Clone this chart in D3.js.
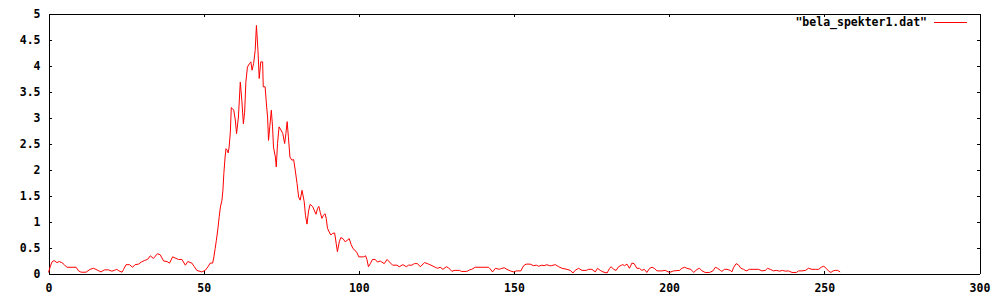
<!DOCTYPE html>
<html>
<head>
<meta charset="utf-8">
<script src="https://cdn.jsdelivr.net/npm/d3@7"></script>
<style>
  body { margin: 0; background: #fff; }
  svg { display: block; }
  .axis text { font-family: "DejaVu Sans Mono", "Liberation Mono", monospace; font-weight: bold; font-size: 11.5px; fill: #000; }
  .axis path, .axis line { stroke: #000; shape-rendering: crispEdges; }
  .spectrum { fill: none; stroke: #ff0000; stroke-width: 1; }
  .key text { font-family: "DejaVu Sans Mono", "Liberation Mono", monospace; font-weight: bold; font-size: 11.5px; fill: #000; }
</style>
</head>
<body>
<script>
// values
const seriesName = '"bela_spekter1.dat"';

const specX = [
  0, 0.55, 1.1, 1.8, 2.7, 3.5, 4.3, 5.1, 5.9, 8.9, 9.7, 10.5, 12.1, 13.4, 14.5, 15.6, 16.9, 18.0, 19.3, 20.4,
  21.2, 22.0, 22.7, 23.7, 24.2, 25.0, 26.1, 27.1, 27.9, 29.0, 29.9, 30.9, 31.9, 32.8, 33.8, 35.1, 36.0, 37.1, 38.2, 39.0,
  40.0, 41.1, 41.9, 43.0, 44.1, 44.9, 46.2, 47.0, 47.8, 49.4, 50.5, 51.4, 52.1, 52.9, 53.3, 53.7, 54.1, 54.6, 55.0, 55.4,
  55.9, 56.2, 56.5, 56.9, 57.2, 57.6, 57.9, 58.2, 58.6, 58.9, 59.3, 59.7, 60.2, 60.6, 61.2, 61.8, 62.3, 62.8, 63.2, 63.6,
  64.1, 64.8, 65.2, 65.6, 66.1, 66.6, 67.0, 67.5, 67.9, 68.4, 69.0, 69.2, 69.8, 70.3, 70.6, 70.9, 71.3, 71.8, 72.2, 72.5,
  73.1, 73.4, 73.8, 74.3, 74.9, 75.5, 76.1, 76.5, 76.9, 77.3, 77.8, 78.4, 79.0, 79.5, 80.1, 80.6, 81.1, 81.7, 82.4, 82.8,
  83.3, 83.8, 84.3, 85.1, 85.6, 86.2, 86.7, 87.1, 87.6, 88.1, 88.6, 89.1, 89.5, 89.9, 90.6, 91.0, 91.5, 92.2, 92.7, 93.1,
  93.7, 94.2, 94.9, 95.6, 96.3, 96.9, 97.5, 98.1, 98.7, 99.4, 100.0, 101.5, 102.2, 102.6, 103.1, 103.7, 104.4, 105.3, 106.0, 106.9,
  107.4, 108.2, 109.1, 109.9, 110.9, 112.3, 113.0, 114.2, 115.3, 116.0, 117.1, 117.9, 118.9, 119.8, 121.2, 122.5, 123.6, 124.6, 125.4, 126.2,
  127.1, 128.2, 128.9, 130.0, 130.7, 132.5, 133.0, 134.8, 135.7, 136.4, 137.5, 141.8, 142.3, 143.1, 144.0, 145.3, 146.1, 146.9, 147.7, 148.8,
  149.9, 150.7, 152.2, 153.1, 153.9, 155.2, 156.3, 157.2, 157.9, 159.0, 159.7, 160.6, 161.4, 162.0, 163.3, 164.4, 165.5, 167.1, 168.1, 169.0,
  169.7, 170.8, 171.9, 173.3, 174.0, 175.1, 176.2, 176.9, 177.8, 178.7, 180.0, 180.8, 181.3, 182.1, 182.9, 183.7, 184.6, 185.1, 185.6, 186.4,
  187.2, 188.0, 188.7, 189.6, 190.4, 191.2, 192.0, 192.8, 193.7, 194.5, 195.2, 196.1, 197.7, 198.7, 200.1, 201.4, 203.4, 204.1, 205.0, 205.7,
  207.0, 207.9, 209.0, 209.8, 210.6, 211.6, 213.0, 214.1, 214.9, 215.6, 216.5, 217.0, 217.8, 218.6, 219.7, 220.2, 220.8, 221.6, 222.4, 223.1,
  224.0, 224.8, 225.9, 228.8, 229.9, 231.0, 231.7, 232.6, 233.6, 234.5, 235.6, 236.5, 237.4, 238.5, 239.6, 241.0, 241.7, 242.8, 243.9, 244.9,
  246.0, 247.1, 248.2, 249.0, 249.8, 250.6, 251.4, 252.1, 252.8, 253.5, 254.3, 255.1
];

const specY = [
  0.02, 0.13, 0.22, 0.25, 0.21, 0.23, 0.21, 0.17, 0.12, 0.12, 0.05, 0.025, 0.025, 0.08, 0.10, 0.07, 0.03, 0.07, 0.07, 0.045,
  0.06, 0.08, 0.05, 0.025, 0.08, 0.17, 0.17, 0.12, 0.17, 0.18, 0.22, 0.25, 0.27, 0.34, 0.29, 0.38, 0.36, 0.24, 0.23, 0.20,
  0.32, 0.29, 0.27, 0.27, 0.16, 0.23, 0.20, 0.13, 0.06, 0.03, 0.06, 0.13, 0.20, 0.20, 0.32, 0.48, 0.64, 0.87, 1.09, 1.28,
  1.41, 1.60, 1.92, 2.24, 2.40, 2.37, 2.32, 2.43, 2.72, 3.19, 3.17, 3.14, 2.95, 2.69, 3.01, 3.68, 3.33, 2.88, 3.10, 3.68,
  3.97, 4.04, 4.07, 3.91, 4.04, 4.29, 4.77, 4.29, 3.75, 4.07, 4.07, 3.59, 3.59, 3.20, 3.01, 2.56, 2.82, 3.14, 2.82, 2.43,
  2.24, 2.05, 2.50, 2.82, 2.76, 2.69, 2.50, 2.69, 2.92, 2.63, 2.24, 2.18, 2.19, 1.99, 1.73, 1.47, 1.41, 1.60, 1.38, 1.12,
  0.95, 1.20, 1.33, 1.29, 1.22, 1.14, 1.25, 1.29, 1.17, 1.06, 1.12, 1.15, 1.06, 0.87, 0.78, 0.74, 0.77, 0.78, 0.58, 0.42,
  0.61, 0.69, 0.67, 0.61, 0.64, 0.67, 0.56, 0.48, 0.45, 0.40, 0.32, 0.32, 0.34, 0.27, 0.13, 0.19, 0.27, 0.27, 0.22, 0.24,
  0.22, 0.19, 0.27, 0.22, 0.16, 0.16, 0.13, 0.17, 0.13, 0.16, 0.16, 0.19, 0.19, 0.13, 0.21, 0.18, 0.15, 0.12, 0.10, 0.12,
  0.08, 0.13, 0.11, 0.04, 0.06, 0.06, 0.04, 0.04, 0.07, 0.08, 0.12, 0.12, 0.09, 0.03, 0.10, 0.08, 0.10, 0.11, 0.08, 0.05,
  0.03, 0.05, 0.05, 0.15, 0.18, 0.18, 0.15, 0.16, 0.14, 0.16, 0.15, 0.17, 0.15, 0.15, 0.17, 0.13, 0.10, 0.08, 0.06, 0.01,
  0.06, 0.10, 0.06, 0.06, 0.08, 0.08, 0.03, 0.10, 0.06, 0.03, 0.01, 0.10, 0.13, 0.08, 0.06, 0.13, 0.16, 0.17, 0.15, 0.18,
  0.10, 0.20, 0.19, 0.10, 0.10, 0.06, 0.08, 0.02, 0.10, 0.12, 0.10, 0.05, 0.05, 0.06, 0.02, 0.05, 0.06, 0.10, 0.12, 0.10,
  0.08, 0.02, 0.08, 0.10, 0.05, 0.02, 0.02, 0.05, 0.12, 0.10, 0.06, 0.04, 0.08, 0.08, 0.06, 0.03, 0.12, 0.19, 0.16, 0.10,
  0.08, 0.05, 0.08, 0.08, 0.05, 0.06, 0.10, 0.08, 0.05, 0.06, 0.045, 0.06, 0.045, 0.05, 0.02, 0.02, 0.05, 0.05, 0.06, 0.10,
  0.08, 0.08, 0.08, 0.12, 0.14, 0.10, 0.045, 0.02, 0.05, 0.06, 0.06, 0.03
];

const xTicks = [0, 50, 100, 150, 200, 250, 300];
const yTicks = [0, 0.5, 1, 1.5, 2, 2.5, 3, 3.5, 4, 4.5, 5];

var width = 1000, height = 300;
var plot = {left: 48.5, right: 979.5, top: 13.5, bottom: 273.5};

var svg = d3.select("body").append("svg")
    .attr("width", width)
    .attr("height", height);

var x = d3.scaleLinear().domain([0, 300]).range([plot.left, plot.right]);
var y = d3.scaleLinear().domain([0, 5]).range([plot.bottom, plot.top]);

var yFmt = function (d) { return String(d); };

// bottom axis with labels, ticks pointing in
svg.append("g")
    .attr("class", "axis")
    .attr("transform", "translate(0," + plot.bottom + ")")
    .call(d3.axisBottom(x).tickValues(xTicks).tickFormat(d3.format("d"))
        .tickSizeInner(-3).tickSizeOuter(0).tickPadding(10));

// top mirror ticks
svg.append("g")
    .attr("class", "axis")
    .attr("transform", "translate(0," + plot.top + ")")
    .call(d3.axisTop(x).tickValues(xTicks).tickFormat("")
        .tickSizeInner(-3).tickSizeOuter(0));

// left axis with labels
svg.append("g")
    .attr("class", "axis")
    .attr("transform", "translate(" + plot.left + ",0)")
    .call(d3.axisLeft(y).tickValues(yTicks).tickFormat(yFmt)
        .tickSizeInner(-3).tickSizeOuter(0).tickPadding(8));

// right mirror ticks
svg.append("g")
    .attr("class", "axis")
    .attr("transform", "translate(" + plot.right + ",0)")
    .call(d3.axisRight(y).tickValues(yTicks).tickFormat("")
        .tickSizeInner(-3).tickSizeOuter(0));

var line = d3.line()
    .x(function (d, i) { return x(specX[i]); })
    .y(function (d) { return y(d); });

svg.append("path")
    .datum(specY)
    .attr("class", "spectrum")
    .attr("d", line);

// key, top right
var key = svg.append("g").attr("class", "key");
key.append("text")
    .attr("x", 927)
    .attr("y", 22)
    .attr("dy", "0.35em")
    .attr("text-anchor", "end")
    .text(seriesName);
key.append("line")
    .attr("x1", 934).attr("x2", 967)
    .attr("y1", 22.5).attr("y2", 22.5)
    .attr("stroke", "#ff0000")
    .attr("shape-rendering", "crispEdges");
</script>
</body>
</html>
